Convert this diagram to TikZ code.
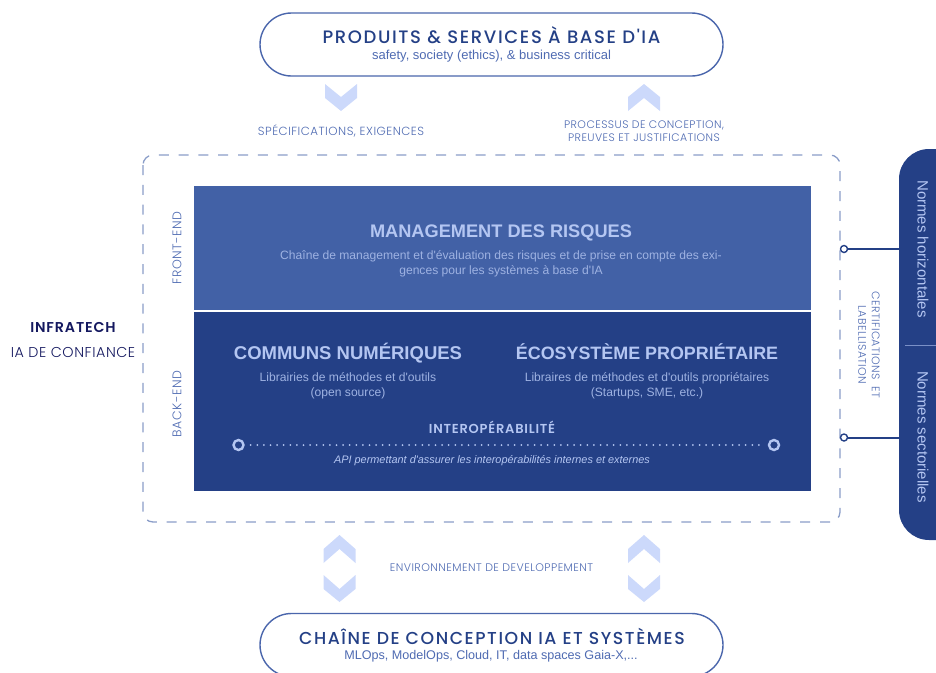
\documentclass[tikz,border=0pt]{standalone}
\usepackage{fontspec}
\setmainfont{Liberation Sans}
\newfontfamily\capsfont[LetterSpace=9]{Poppins Medium}
\newfontfamily\capsbold[LetterSpace=6]{Poppins SemiBold}
\newfontfamily\capsfontlight[LetterSpace=4]{Poppins Light}
\newfontfamily\bodyfont{Liberation Sans}
\usetikzlibrary{shapes.misc}
\definecolor{deepblue}{HTML}{244086}
\definecolor{midblue}{HTML}{4261A6}
\definecolor{pillline}{HTML}{4A66AC}
\definecolor{chev}{HTML}{CCD9FB}
\definecolor{framecol}{HTML}{8A9DC8}
\definecolor{lighttxt}{HTML}{B4C6F2}
\definecolor{softtxt}{HTML}{4F6BB2}
\definecolor{navy}{HTML}{14185F}
\tikzset{
  x=1pt,y=-1pt,
  pill/.style={draw=pillline,line width=1.4pt,fill=white,rounded rectangle,minimum width=463pt,minimum height=63pt,inner sep=0pt},
  pilltitle/.style={text=deepblue,font=\capsfont\fontsize{18}{20}\selectfont,inner sep=0pt},
  pillsub/.style={text=softtxt,font=\bodyfont\fontsize{13}{15}\selectfont,inner sep=0pt},
  smallcaps/.style={text=softtxt,font=\capsfontlight\fontsize{11.5}{13.5}\selectfont,inner sep=0pt,align=center},
  bandhead/.style={text=lighttxt,font=\bodyfont\bfseries\fontsize{18.2}{22}\selectfont,inner sep=0pt},
  bandtext/.style={text=lighttxt!85!deepblue,font=\bodyfont\fontsize{12.1}{15}\selectfont,inner sep=0pt,align=center},
  normtext/.style={text=lighttxt,font=\bodyfont\fontsize{15}{17}\selectfont,inner sep=0pt,rotate=-90},
  ring/.style={circle,draw=deepblue,fill=white,line width=1.4pt,minimum size=7pt,inner sep=0pt},
  lightring/.style={circle,draw=lighttxt,line width=2.4pt,minimum size=10pt,inner sep=0pt},
  chevron/.style={fill=chev,draw=none},
}
\begin{document}
\begin{tikzpicture}
\useasboundingbox (0,0) rectangle (936,672);
\clip (0,0) rectangle (936,672);
% pills
\node[pill] (top) at (491.5,44.5) {};
\node[pilltitle] (toptitle) at (491.5,35.5) {PRODUITS \& SERVICES À BASE D'IA};
\node[pillsub] (topsub) at (491.5,56.5) {safety, society (ethics), \& business critical};
\node[pill] (bot) at (491.5,645) {};
\node[pilltitle,font=\capsfont\fontsize{17.3}{20}\selectfont] (bottitle) at (492,636) {CHAÎNE DE CONCEPTION IA ET SYSTÈMES};
\node[pillsub,font=\bodyfont\fontsize{12.6}{15}\selectfont] (botsub) at (491,656.5) {MLOps, ModelOps, Cloud, IT, data spaces Gaia-X,...};
% chevrons
\fill[chevron] (325,84) -- (341,97) -- (357,84) -- (357,98) -- (341,111) -- (325,98) -- cycle;
\fill[chevron] (628,111) -- (628,97) -- (644,84) -- (660,97) -- (660,111) -- (644,98) -- cycle;
\foreach \cx in {339.5,644}{
  \fill[chevron] (\cx-16,563) -- (\cx-16,549) -- (\cx,535) -- (\cx+16,549) -- (\cx+16,563) -- (\cx,549) -- cycle;
  \fill[chevron] (\cx-16,575) -- (\cx,589) -- (\cx+16,575) -- (\cx+16,589) -- (\cx,602) -- (\cx-16,589) -- cycle;
}
% labels
\node[smallcaps,font=\capsfontlight\fontsize{11.8}{13.5}\selectfont] (spec) at (341,130.5) {SPÉCIFICATIONS, EXIGENCES};
\node[smallcaps,font=\capsfontlight\fontsize{10.9}{13.5}\selectfont] (proc) at (644,131) {PROCESSUS DE CONCEPTION,\\PREUVES ET JUSTIFICATIONS};
\node[smallcaps,font=\capsfontlight\fontsize{11}{13}\selectfont] (env) at (491.5,568) {ENVIRONNEMENT DE DEVELOPPEMENT};
% dashed frame
\draw[framecol,line width=1.3pt,dash pattern=on 10pt off 9.8pt,rounded corners=10pt] (143,155) rectangle (840,522);
% bands
\fill[midblue] (194,186) rectangle (811,310);
\fill[deepblue] (194,312) rectangle (811,491);
\node[smallcaps,rotate=90,font=\capsfontlight\fontsize{12.5}{14}\selectfont] (front) at (177,248) {FRONT-END};
\node[smallcaps,rotate=90,font=\capsfontlight\fontsize{12.5}{14}\selectfont] (back) at (177,404) {BACK-END};
\node[bandhead] (mgmt) at (501,233) {MANAGEMENT DES RISQUES};
\node[bandtext] (mgmtt) at (501,263.5) {Chaîne de management et d'évaluation des risques et de prise en compte des exi-\\gences pour les systèmes à base d'IA};
\node[bandhead,font=\bodyfont\bfseries\fontsize{18.5}{22}\selectfont] (comm) at (348,353.5) {COMMUNS NUMÉRIQUES};
\node[bandtext] (commt) at (348,385.5) {Librairies de méthodes et d'outils\\(open source)};
\node[bandhead,font=\bodyfont\bfseries\fontsize{17.9}{22}\selectfont] (eco) at (647,352) {ÉCOSYSTÈME PROPRIÉTAIRE};
\node[bandtext] (ecot) at (647,385.5) {Libraires de méthodes et d'outils propriétaires\\(Startups, SME, etc.)};
\node[text=lighttxt,font=\capsbold\fontsize{13}{15}\selectfont,inner sep=0pt] (interop) at (492,427) {INTEROPÉRABILITÉ};
\node[lightring] (la) at (238.5,445) {};
\node[lightring] (lb) at (774,445) {};
\draw[lighttxt,line width=2pt,line cap=round,dash pattern=on 0pt off 6.6pt,shorten >=6pt,shorten <=6pt] (la) -- (lb);
\node[text=lighttxt,font=\bodyfont\itshape\fontsize{10.9}{14}\selectfont,inner sep=0pt] (api) at (492,461) {API permettant d'assurer les interopérabilités internes et externes};
% left
\node[text=navy,font=\capsbold\fontsize{14.3}{16}\selectfont,inner sep=0pt] (infra) at (73,327) {INFRATECH};
\node[text=navy,font=\capsfontlight\fontsize{14.3}{16}\selectfont,inner sep=0pt] (ia) at (73,352) {IA DE CONFIANCE};
% right bar
\fill[deepblue,rounded corners=30pt] (899,149) rectangle (990,540);
\coordinate (barA) at (899,249);
\coordinate (barB) at (899,437.5);
\draw[lighttxt!60!deepblue,line width=.8pt] (905,345) -- (936,345);
\node[normtext] (nh) at (923,249) {Normes horizontales};
\node[normtext] (ns) at (923,437) {Normes sectorielles};
\node[ring] (ra) at (844,249) {};
\node[ring] (rb) at (844,437.5) {};
\draw[deepblue,line width=2pt] (ra) -- (barA);
\draw[deepblue,line width=2pt] (rb) -- (barB);
\node[smallcaps,rotate=-90,font=\capsfontlight\fontsize{11}{13.5}\selectfont] (cert) at (869,345) {CERTIFICATIONS~~ET\\LABELLISATION};
\end{tikzpicture}
\end{document}
